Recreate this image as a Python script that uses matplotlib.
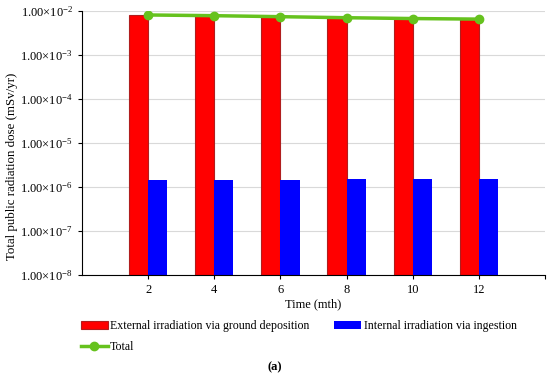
import numpy as np
import matplotlib
matplotlib.use("Agg")
import matplotlib.pyplot as plt
from matplotlib.ticker import FuncFormatter

plt.rcParams["font.family"] = ["Liberation Serif", "DejaVu Serif"]
plt.rcParams["mathtext.fontset"] = "custom"
plt.rcParams["mathtext.rm"] = "Liberation Serif"
plt.rcParams["mathtext.it"] = "Liberation Serif:italic"

# 数据
months = [2, 4, 6, 8, 10, 12]
external = [8.2e-3, 7.9e-3, 7.5e-3, 7.1e-3, 6.8e-3, 6.6e-3]
internal = [1.42e-6, 1.43e-6, 1.46e-6, 1.50e-6, 1.55e-6, 1.50e-6]
total = [e + i for e, i in zip(external, internal)]

red = "#FF0000"
blue = "#0000FF"
green = "#66C21E"

fig = plt.figure(figsize=(5.5, 3.73), dpi=100)
ax = fig.add_axes([0.149, 0.263, 0.842, 0.707])

x = np.array(months)
w = 0.58
b1 = ax.bar(x - w / 2, external, width=w, color=red, edgecolor="#B01E1E",
            linewidth=0.8, bottom=1e-8, label="External irradiation via ground deposition", zorder=2)
b2 = ax.bar(x + w / 2, internal, width=w, color=blue, bottom=1e-8,
            label="Internal irradiation via ingestion", zorder=2)
l1, = ax.plot(x, total, color=green, linewidth=2.5, marker="o", markersize=6,
              label="Total", zorder=3)

ax.set_yscale("log")
ax.set_ylim(1e-8, 1e-2)
ax.set_xlim(0, 14)
ax.set_xticks([2, 4, 6, 8, 10, 12, 14])
ax.set_xticklabels(["2", "4", "6", "8", "10", "12", ""])
ax.set_yticks([1e-8, 1e-7, 1e-6, 1e-5, 1e-4, 1e-3, 1e-2])
ax.minorticks_off()

def fmt(v, pos):
    e = int(round(np.log10(v)))
    return r"1.00$\times$10$^{%d}$" % e

ax.yaxis.set_major_formatter(FuncFormatter(fmt))
ax.tick_params(axis="both", labelsize=9, length=3, color="black")
ax.yaxis.grid(True, color="#D9D9D9", linewidth=0.8, zorder=0)
ax.set_axisbelow(True)

for s in ["top", "right"]:
    ax.spines[s].set_visible(False)
ax.spines["left"].set_linewidth(0.8)
ax.spines["bottom"].set_linewidth(0.8)

ax.set_xlabel("Time (mth)", fontsize=9, labelpad=2)
ax.set_ylabel("Total public radiation dose (mSv/yr)", fontsize=9.3)
ax.yaxis.set_label_coords(-0.138, 0.41)

fig.legend(handles=[b1, l1, b2], ncol=2, loc="upper left",
           bbox_to_anchor=(0.138, 0.155), frameon=False, fontsize=8.6,
           handlelength=2.25, handleheight=0.6, handletextpad=0.2, columnspacing=2.1,
           labelspacing=0.75, borderaxespad=0)

fig.text(0.5, 0.0, "(a)", ha="center", va="bottom", fontsize=9, fontweight="bold")

fig.savefig("out.png", dpi=100)
